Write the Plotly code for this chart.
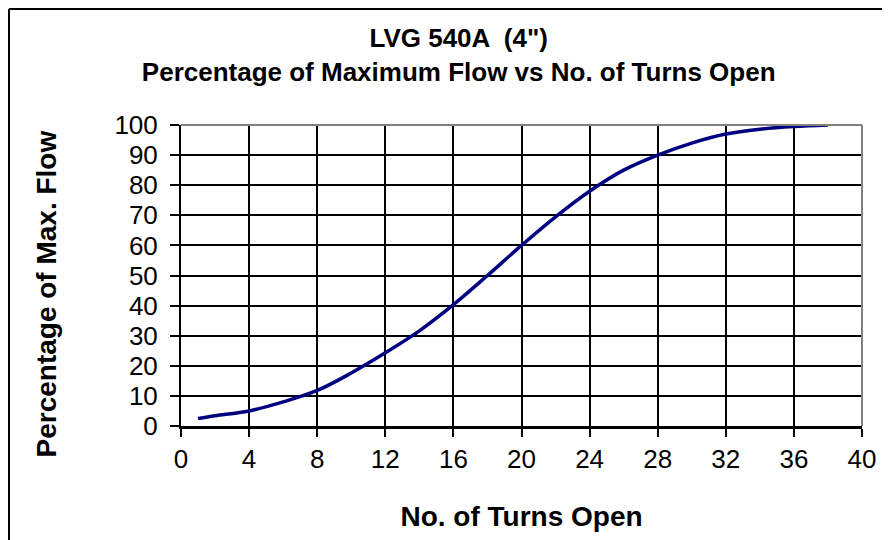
import plotly.graph_objects as go

turns = [1, 2, 4, 6, 8, 10, 12, 14, 16, 18, 20, 22, 24, 26, 28, 30, 32, 34, 36, 38]
flow = [2.5, 3.4, 5, 8, 11.8, 17.6, 24.3, 31.6, 40.3, 50, 60, 69.5, 78, 85, 90, 94, 97, 98.6, 99.5, 100]

x_ticks = list(range(0, 41, 4))
y_ticks = list(range(0, 101, 10))

y_title = "Percentage of Max. Flow"
x_title = "No. of Turns Open"

FONT = "Liberation Sans, Arial, sans-serif"

W, H = 882, 532
L, T = 173, 117
PW, PH = 681, 301

fig = go.Figure()
fig.add_trace(go.Scatter(
    x=turns, y=flow, mode="lines",
    line=dict(color="#000080", width=3.5, shape="spline", smoothing=1.0),
    hoverinfo="x+y", showlegend=False,
))

fig.update_layout(
    width=W, height=H,
    margin=dict(l=L, r=W - L - PW, t=T, b=H - T - PH, autoexpand=False),
    paper_bgcolor="white", plot_bgcolor="white",
    font=dict(family=FONT, size=25, color="black"),
    title=dict(
        text="<b>LVG 540A  (4\")</b><br><b>Percentage of Maximum Flow vs No. of Turns Open</b>",
        x=0.511, xref="container", xanchor="center",
        y=1 - 39.4 / H, yref="container", yanchor="middle",
        font=dict(family=FONT, size=26, color="black"),
    ),
    xaxis=dict(
        range=[0, 40], tickvals=x_ticks, ticks="outside", ticklen=8, tickwidth=1.5,
        tickcolor="black", showline=True, linecolor="black", linewidth=3,
        showgrid=True, gridcolor="black", gridwidth=1.5, zeroline=False,
        title=dict(text="<b>" + x_title + "</b>", font=dict(family=FONT, size=28), standoff=34),
        tickfont=dict(size=26), ticklabelstandoff=0,
    ),
    yaxis=dict(
        range=[0, 100], tickvals=y_ticks, ticks="outside", ticklen=9, tickwidth=1.5,
        tickcolor="black", showline=True, linecolor="black", linewidth=2,
        showgrid=True, gridcolor="black", gridwidth=1.5, zeroline=False,
        tickfont=dict(size=26), ticklabelstandoff=7,
    ),
    annotations=[
        dict(text="<b>" + y_title + "</b>", textangle=-90, showarrow=False,
             xref="paper", yref="paper",
             x=(38 - L) / PW, y=1 - (286.5 - T) / PH,
             xanchor="center", yanchor="middle",
             font=dict(family=FONT, size=28, color="black")),
    ],
    shapes=[
        dict(type="line", xref="paper", yref="paper", x0=0, x1=1, y0=1, y1=1,
             line=dict(color="#808080", width=2), layer="above"),
        dict(type="line", xref="paper", yref="paper", x0=1, x1=1, y0=0, y1=1,
             line=dict(color="#808080", width=2), layer="above"),
        dict(type="line", xref="paper", yref="paper",
             x0=(1 - L) / PW, x1=(1 - L) / PW, y0=-(H - T - PH) / PH, y1=1 + (T - 1) / PH,
             line=dict(color="black", width=2), layer="below"),
        dict(type="line", xref="paper", yref="paper",
             x0=(1 - L) / PW, x1=(W - L) / PW, y0=1 + (T - 1) / PH, y1=1 + (T - 1) / PH,
             line=dict(color="black", width=2), layer="below"),
    ],
)

fig.write_html("out.html")
